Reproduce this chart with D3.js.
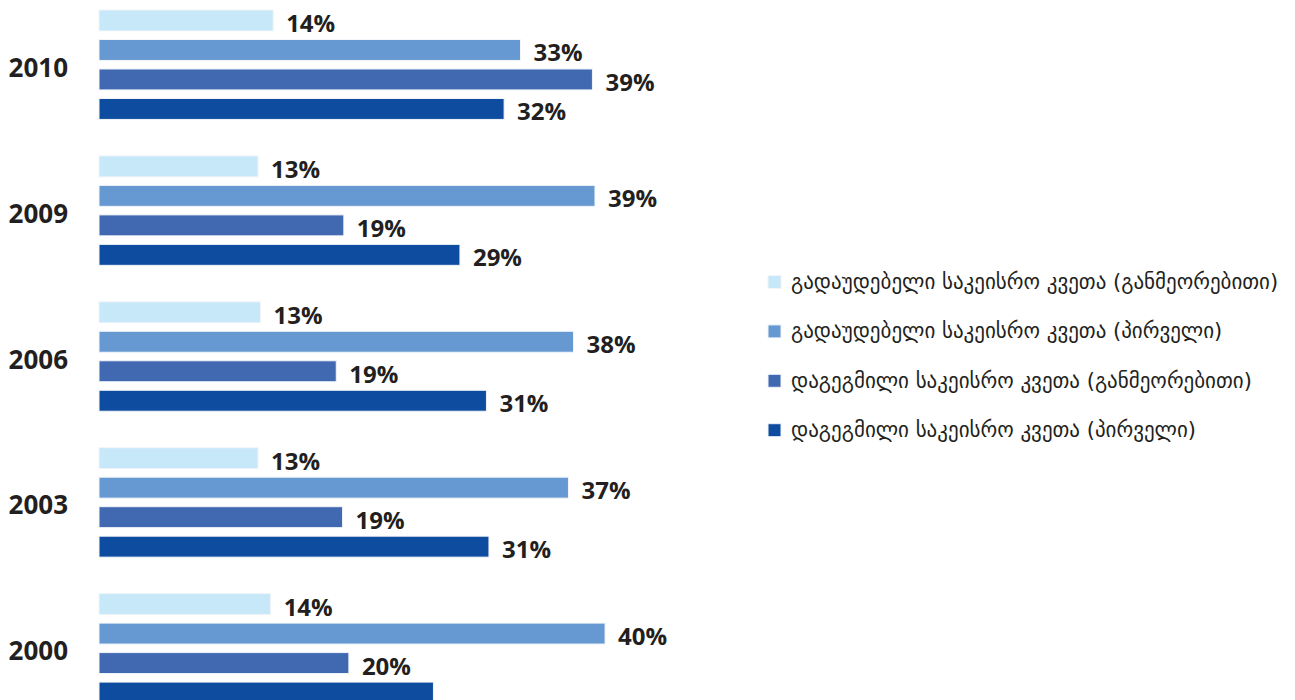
<!DOCTYPE html>
<html>
<head>
<meta charset="utf-8">
<script src="https://cdn.jsdelivr.net/npm/d3@7"></script>
<style>
  body { margin: 0; background: #fff; }
  svg { display: block; }
</style>
</head>
<body>
<svg id="chart"></svg>
<script>
// years, top to bottom
const years = ["2010", "2009", "2006", "2003", "2000"];

const seriesNames = [
  "გადაუდებელი საკეისრო კვეთა (განმეორებითი)",
  "გადაუდებელი საკეისრო კვეთა (პირველი)",
  "დაგეგმილი საკეისრო კვეთა (განმეორებითი)",
  "დაგეგმილი საკეისრო კვეთა (პირველი)"
];

const seriesColors = ["#c6e8f8", "#6699d2", "#4169b2", "#0d4c9f"];

// percentages per year (same order as years)
const emergencyRepeat = [13.8, 12.6, 12.8, 12.6, 13.6];
const emergencyFirst  = [33.4, 39.3, 37.6, 37.2, 40.1];
const plannedRepeat   = [39.1, 19.4, 18.8, 19.3, 19.8];
const plannedFirst    = [32.1, 28.6, 30.7, 30.9, 26.5];

const seriesValues = [emergencyRepeat, emergencyFirst, plannedRepeat, plannedFirst];

const config = {
  width: 1295,
  height: 700,
  left: 99,
  top: 10
};

const svg = d3.select("#chart")
  .attr("width", config.width)
  .attr("height", config.height);

const xScale = d3.scaleLinear()
  .domain([0, 40])
  .range([config.left, config.left + 504.8]);

// one band per year, then one band per series inside it
const yGroup = d3.scaleBand()
  .domain(years)
  .range([config.top, config.top + 145.9 * (years.length - 0.25)])
  .paddingInner(0.25)
  .paddingOuter(0);

const ySeries = d3.scaleBand()
  .domain(d3.range(seriesNames.length))
  .range([0, yGroup.bandwidth()])
  .paddingInner(0.29)
  .paddingOuter(0);

const rows = [];
years.forEach((yr, i) => {
  seriesValues.forEach((vals, s) => {
    rows.push({year: yr, s: s, value: vals[i]});
  });
});

const groups = svg.selectAll("g.year")
  .data(years)
  .join("g")
    .attr("class", "year")
    .attr("transform", d => `translate(0,${yGroup(d)})`);

groups.append("text")
  .attr("x", 68)
  .attr("y", yGroup.bandwidth() / 2 + 12)
  .attr("text-anchor", "end")
  .attr("font-family", "'Open Sans', sans-serif")
  .attr("font-weight", "bold")
  .attr("font-size", "26px")
  .attr("fill", "#231f20")
  .text(d => d);

svg.selectAll("rect.bar")
  .data(rows)
  .join("rect")
    .attr("class", "bar")
    .attr("x", xScale(0))
    .attr("y", d => yGroup(d.year) + ySeries(d.s))
    .attr("width", d => xScale(d.value) - xScale(0))
    .attr("height", ySeries.bandwidth())
    .attr("fill", d => seriesColors[d.s])
    .attr("stroke", "#f1f4f8")
    .attr("stroke-width", 1);

// value labels sit just under the bar's right end; the last one falls off the picture
svg.selectAll("text.value")
  .data(rows.filter(d => yGroup(d.year) + ySeries(d.s) + ySeries.bandwidth() + 1 < config.height))
  .join("text")
    .attr("class", "value")
    .attr("x", d => xScale(d.value) + 13)
    .attr("y", d => yGroup(d.year) + ySeries(d.s) + ySeries.bandwidth() + 1)
    .attr("font-family", "'Open Sans', sans-serif")
    .attr("font-weight", "bold")
    .attr("font-size", "24px")
    .attr("fill", "#231f20")
    .text(d => Math.round(d.value) + "%");

// legend
const legend = svg.append("g")
  .attr("transform", "translate(768,282)");

const legendItems = legend.selectAll("g")
  .data(seriesNames)
  .join("g")
    .attr("transform", (d, i) => `translate(0,${i * 49.4})`);

legendItems.append("rect")
  .attr("x", 0)
  .attr("y", -6.5)
  .attr("width", 13)
  .attr("height", 13)
  .attr("fill", (d, i) => seriesColors[i])
  .attr("stroke", "#f1f4f8")
  .attr("stroke-width", 1);

legendItems.append("text")
  .attr("x", 23)
  .attr("y", 7)
  .attr("font-family", "'DejaVu Sans', sans-serif")
  .attr("font-size", "21px")
  .attr("fill", "#231f20")
  .text(d => d);
</script>
</body>
</html>
